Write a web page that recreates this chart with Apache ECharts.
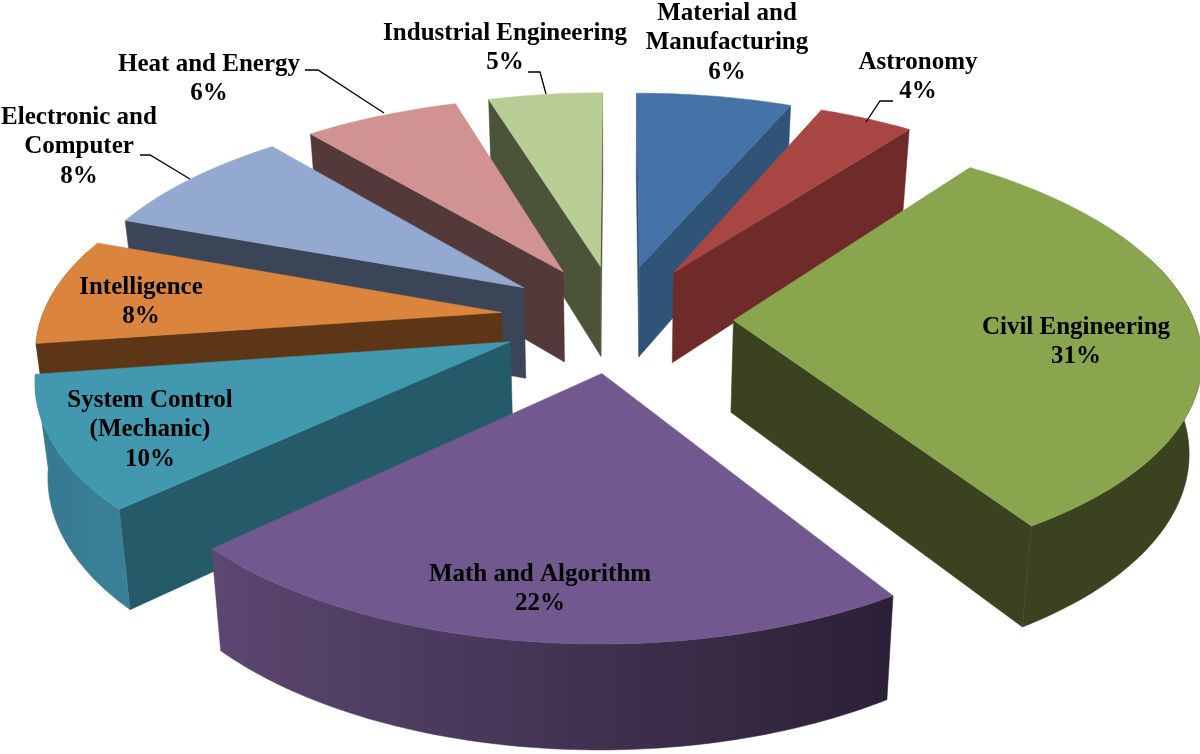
<!DOCTYPE html>
<html>
<head>
<meta charset="utf-8">
<style>html,body{margin:0;padding:0;background:#fff}#c{width:1200px;height:754px}</style>
<script src="https://cdn.jsdelivr.net/npm/echarts@6/dist/echarts.min.js"></script>
</head>
<body>
<div id="c"></div>
<script>
// --- data (clockwise from twelve o'clock) ---
const categories = ['Material and\nManufacturing','Astronomy','Civil Engineering','Math and Algorithm','System Control\n(Mechanic)','Intelligence','Electronic and\nComputer','Heat and Energy','Industrial Engineering'];
const shares = [6.4,3.9,30.7,22,9.7,7.9,8.3,6.4,4.7];

// --- styles ---
const topColors = ['#4573a7','#a84643','#89a54e','#71588f','#4198af','#db843d','#93a9cf','#d19392','#b9cd96'];
const cutColors = ['#2f5478','#6e2b2a','#3a421f','#3a2c4a','#255a68','#5c3617','#3b4558','#54393a','#4b5438'];
const rimFrom   = ['#3a5f8a','#8a3a38','#3a421f','#5c4770','#35798f','#5c3617','#6f80a0','#a07070','#8e9d72'];
const rimTo     = ['#2f5478','#6e2b2a','#3a421f','#2a2036','#3a8198','#5c3617','#3b4558','#54393a','#4b5438'];

// --- layout ---
const view = {cx:617, cy:318, rx:460, ry:213, persp:0.146, depth:92, depthPersp:0.7, taper:0.022, explode:0.253};
const labelCenters = [[727,43],[918,77],[1076,342],[540,589],[150,430],[141,302],[79,147],[209,79],[505,48]];
const leaders = {
  1:[[893,101],[880,101],[866,122]],
  6:[[140,155],[150,155],[190,179]],
  7:[[305,70],[318,70],[384,113]],
  8:[[528,72],[540,72],[546,94]]
};

const total = shares.reduce((a,b)=>a+b,0);
const slices = [];
let acc = 0;
shares.forEach(v=>{
  const a0 = acc/total*Math.PI*2; acc += v;
  const a1 = acc/total*Math.PI*2;
  slices.push({a0,a1,mid:(a0+a1)/2});
});
const drawOrder = shares.map((_,i)=>i).sort((p,q)=>Math.cos(slices[q].mid)-Math.cos(slices[p].mid));

function proj(sl,t,r,z){
  const u = view.explode*Math.sin(sl.mid)+r*Math.sin(t);
  const v = -(view.explode*Math.cos(sl.mid)+r*Math.cos(t));
  const s = 1/(1-view.persp*v);
  const x = view.rx*u*s;
  return [view.cx+x*(1-view.taper*z), view.cy+view.ry*v*s+z*view.depth*Math.pow(s,view.depthPersp)];
}
function poly(points,fill){
  return {type:'polygon',shape:{points},style:{fill,stroke:fill,lineWidth:0.5},silent:true};
}
function arcPts(sl,t0,t1,z){
  const n=Math.max(2,Math.ceil((t1-t0)/0.02)),o=[];
  for(let i=0;i<=n;i++) o.push(proj(sl,t0+(t1-t0)*i/n,1,z));
  return o;
}
function cutFace(sl,t,fill){
  const a=proj(sl,0,0,0), b=proj(sl,t,1,0), m=proj(sl,sl.mid,1,0);
  const k=(m[0]-a[0])/((b[0]-a[0])||1e-6);
  const yOnLine=a[1]+(b[1]-a[1])*k;
  if(!(m[1]<yOnLine) ) return null;
  return poly([a,b,proj(sl,t,1,1),proj(sl,0,0,1)],fill);
}
function renderSlice(params,api){
  const i=api.value(0), sl=slices[i], kids=[];
  [sl.a0,sl.a1].forEach(t=>{const f=cutFace(sl,t,cutColors[i]); if(f) kids.push(f);});
  const t0=Math.max(sl.a0,Math.PI/2-0.3), t1=Math.min(sl.a1,Math.PI*1.5+0.3);
  if(t1>t0){
    const fill=new echarts.graphic.LinearGradient(0,0,1,0,[{offset:0,color:rimFrom[i]},{offset:1,color:rimTo[i]}]);
    kids.push(poly(arcPts(sl,t0,t1,0).concat(arcPts(sl,t0,t1,1).reverse()),fill));
  }
  kids.push(poly([proj(sl,0,0,0)].concat(arcPts(sl,sl.a0,sl.a1,0)),topColors[i]));
  return {type:'group',children:kids};
}
function renderLabel(params,api){
  const i=api.value(0), c=labelCenters[i], kids=[];
  if(leaders[i]) kids.push({type:'polyline',shape:{points:leaders[i]},style:{stroke:'#000',lineWidth:1.3,fill:null},silent:true});
  kids.push({type:'text',x:c[0],y:c[1],style:{text:categories[i]+'\n'+Math.round(shares[i])+'%',align:'center',verticalAlign:'middle',font:'bold 25px "Liberation Serif"',lineHeight:29.5,fill:'#000'},silent:true});
  return {type:'group',children:kids};
}
const chart=echarts.init(document.getElementById('c'),null,{renderer:'canvas'});
chart.setOption({
  backgroundColor:'#fff',animation:false,
  series:[
    {type:'custom',coordinateSystem:'none',renderItem:renderSlice,silent:true,z:2,
     data:drawOrder.map(i=>({name:categories[i],value:[i,shares[i]]}))},
    {type:'custom',coordinateSystem:'none',renderItem:renderLabel,silent:true,z:3,
     data:categories.map((n,i)=>({name:n,value:[i,shares[i]]}))}
  ]
});
</script>
</body>
</html>
